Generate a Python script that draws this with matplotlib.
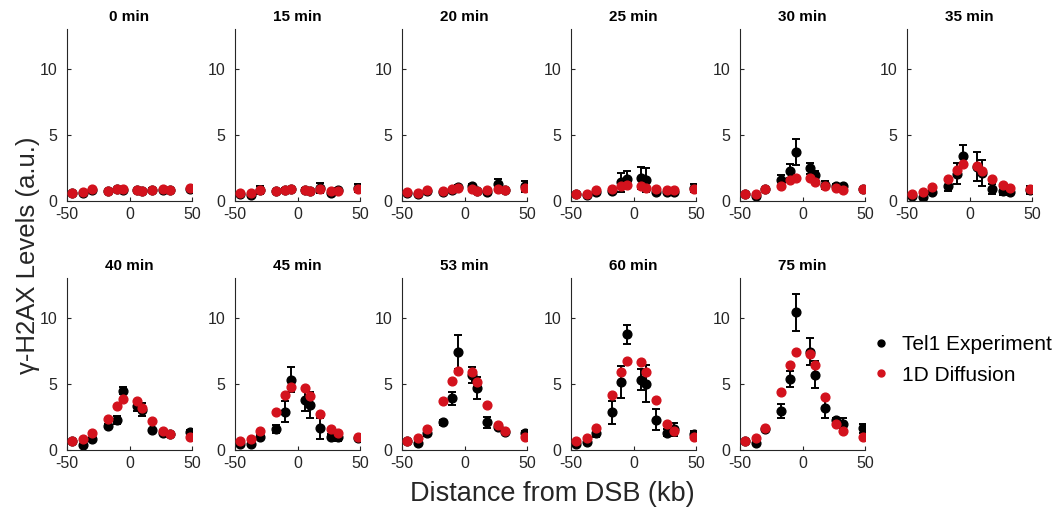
import numpy as np
import matplotlib
matplotlib.use('Agg')
import matplotlib.pyplot as plt

plt.rcParams['font.family'] = ['Liberation Sans', 'DejaVu Sans']
plt.rcParams['axes.unicode_minus'] = False

## positions along the chromosome (kb from the DSB)
dist_kb = [-46, -37, -30, -17, -10, -5, 6, 10, 18, 27, 32, 48]

times = ['0 min', '15 min', '20 min', '25 min', '30 min', '35 min',
         '40 min', '45 min', '53 min', '60 min', '75 min']

## Tel1 experiment (mean and error bar half-width)
exp_mean = {
    '0 min':  [0.60, 0.62, 0.85, 0.76, 0.88, 0.86, 0.84, 0.78, 0.85, 0.85, 0.84, 0.94],
    '15 min': [0.50, 0.43, 0.86, 0.76, 0.86, 0.93, 0.86, 0.76, 0.98, 0.60, 0.80, 1.00],
    '20 min': [0.60, 0.50, 0.78, 0.70, 0.83, 1.08, 1.13, 0.78, 0.65, 1.26, 0.83, 1.10],
    '25 min': [0.50, 0.46, 0.70, 0.72, 1.40, 1.67, 1.74, 1.60, 0.70, 0.65, 0.70, 0.95],
    '30 min': [0.50, 0.37, 0.90, 1.58, 2.26, 3.70, 2.47, 2.00, 1.24, 1.10, 1.10, 0.90],
    '35 min': [0.40, 0.34, 0.68, 1.13, 2.05, 3.42, 2.58, 2.13, 0.92, 0.74, 0.68, 0.80],
    '40 min': [0.70, 0.38, 0.84, 1.85, 2.28, 4.48, 3.34, 3.04, 1.52, 1.32, 1.19, 1.34],
    '45 min': [0.43, 0.43, 1.01, 1.57, 2.89, 5.32, 3.75, 3.42, 1.65, 1.01, 1.01, 0.89],
    '53 min': [0.70, 0.50, 1.27, 2.08, 3.90, 7.40, 5.65, 4.68, 2.08, 1.77, 1.39, 1.27],
    '60 min': [0.46, 0.63, 1.27, 2.84, 5.14, 8.73, 5.32, 5.01, 2.28, 1.32, 1.57, 1.19],
    '75 min': [0.70, 0.53, 1.57, 2.94, 5.34, 10.40, 7.44, 5.70, 3.20, 2.25, 2.00, 1.65],
}
exp_err = {
    '0 min':  [0.05, 0.05, 0.05, 0.05, 0.05, 0.05, 0.05, 0.05, 0.15, 0.05, 0.05, 0.05],
    '15 min': [0.05, 0.05, 0.30, 0.10, 0.10, 0.15, 0.10, 0.10, 0.40, 0.10, 0.15, 0.30],
    '20 min': [0.05, 0.05, 0.10, 0.10, 0.10, 0.15, 0.15, 0.10, 0.10, 0.40, 0.10, 0.40],
    '25 min': [0.05, 0.05, 0.15, 0.15, 0.70, 0.60, 0.80, 0.90, 0.15, 0.15, 0.15, 0.30],
    '30 min': [0.05, 0.10, 0.10, 0.40, 0.50, 0.95, 0.40, 0.30, 0.30, 0.15, 0.20, 0.10],
    '35 min': [0.10, 0.10, 0.15, 0.40, 0.80, 0.80, 1.10, 1.00, 0.40, 0.30, 0.20, 0.30],
    '40 min': [0.05, 0.10, 0.10, 0.15, 0.30, 0.25, 0.40, 0.50, 0.10, 0.10, 0.10, 0.20],
    '45 min': [0.10, 0.10, 0.20, 0.30, 0.80, 0.95, 0.80, 1.00, 0.80, 0.20, 0.30, 0.10],
    '53 min': [0.05, 0.10, 0.20, 0.20, 0.50, 1.30, 0.60, 0.80, 0.40, 0.10, 0.10, 0.15],
    '60 min': [0.10, 0.10, 0.30, 0.85, 1.20, 0.70, 0.80, 1.40, 0.80, 0.25, 0.50, 0.25],
    '75 min': [0.05, 0.10, 0.15, 0.55, 0.60, 1.40, 1.00, 1.00, 0.80, 0.20, 0.40, 0.35],
}

## 1D diffusion model
model = {
    '0 min':  [0.63, 0.65, 0.88, 0.78, 0.90, 0.88, 0.86, 0.78, 0.86, 0.88, 0.86, 0.96],
    '15 min': [0.60, 0.60, 0.86, 0.76, 0.86, 0.88, 0.80, 0.76, 0.88, 0.76, 0.78, 0.93],
    '20 min': [0.66, 0.60, 0.86, 0.78, 0.90, 0.96, 0.90, 0.78, 0.83, 0.90, 0.83, 0.96],
    '25 min': [0.56, 0.56, 0.85, 0.90, 1.15, 1.20, 1.15, 0.95, 0.90, 0.85, 0.80, 0.90],
    '30 min': [0.50, 0.53, 0.90, 1.10, 1.58, 1.76, 1.71, 1.45, 1.10, 0.95, 0.84, 0.90],
    '35 min': [0.55, 0.68, 1.08, 1.66, 2.37, 2.79, 2.63, 2.26, 1.63, 1.18, 1.00, 0.87],
    '40 min': [0.68, 0.80, 1.32, 2.33, 3.30, 3.85, 3.72, 3.16, 2.20, 1.44, 1.19, 0.96],
    '45 min': [0.71, 0.84, 1.44, 2.89, 4.15, 4.76, 4.66, 4.08, 2.71, 1.62, 1.32, 1.01],
    '53 min': [0.68, 0.89, 1.62, 3.67, 5.24, 6.00, 5.87, 5.16, 3.42, 1.90, 1.42, 0.99],
    '60 min': [0.71, 0.89, 1.70, 4.13, 5.92, 6.73, 6.63, 5.87, 3.80, 1.97, 1.44, 1.01],
    '75 min': [0.68, 0.91, 1.67, 4.35, 6.45, 7.42, 7.27, 6.40, 3.97, 2.00, 1.44, 1.01],
}

red = '#d3121d'
grey = '#262626'

fig = plt.figure(figsize=(10.62, 5.15), dpi=100)

W, H = 1062.0, 515.0
col_left = [67, 235, 402, 571, 740, 907]
ax_w = 125
row_bottom = [201, 450]
ax_h = 172

for i, t in enumerate(times):
    r = i // 6
    c = i % 6
    ax = fig.add_axes([col_left[c] / W, 1 - row_bottom[r] / H, ax_w / W, ax_h / H])
    ax.errorbar(dist_kb, exp_mean[t], yerr=exp_err[t], fmt='o', color='black',
                ms=6.3, elinewidth=1.4, capsize=3, capthick=1.4, zorder=2)
    ax.plot(dist_kb, model[t], 'o', color=red, ms=6.3, zorder=3)
    ax.set_xlim(-50, 50)
    ax.set_ylim(0, 13)
    ax.set_xticks([-50, 0, 50])
    ax.set_yticks([0, 5, 10])
    ax.spines['top'].set_visible(False)
    ax.spines['right'].set_visible(False)
    for s in ['left', 'bottom']:
        ax.spines[s].set_color(grey)
        ax.spines[s].set_linewidth(0.8)
    ax.tick_params(direction='in', length=3, width=0.8, colors=grey,
                   labelsize=11.5)
    ax.tick_params(axis='y', pad=7)
    ax.tick_params(axis='x', pad=4)
    ax.set_title(t, fontsize=11, fontweight='bold', color='black', pad=6)

fig.text(0.026, 1 - 255 / H, 'γ-H2AX Levels (a.u.)', rotation=90,
         ha='center', va='center', fontsize=18.5, color=grey)
fig.text(0.52, 1 - 494 / H, 'Distance from DSB (kb)', ha='center', va='center',
         fontsize=19.5, color=grey)

# legend on the right of the bottom row
h1 = plt.Line2D([], [], ls='', marker='o', color='black', ms=5)
h2 = plt.Line2D([], [], ls='', marker='o', color=red, ms=5)
fig.legend([h1, h2], ['Tel1 Experiment', '1D Diffusion'], loc='center left',
           bbox_to_anchor=(852 / W, 1 - 360 / H), frameon=False, fontsize=15,
           handlelength=1.0, handletextpad=0.5, labelspacing=0.55)

fig.savefig('out.png', dpi=100)
